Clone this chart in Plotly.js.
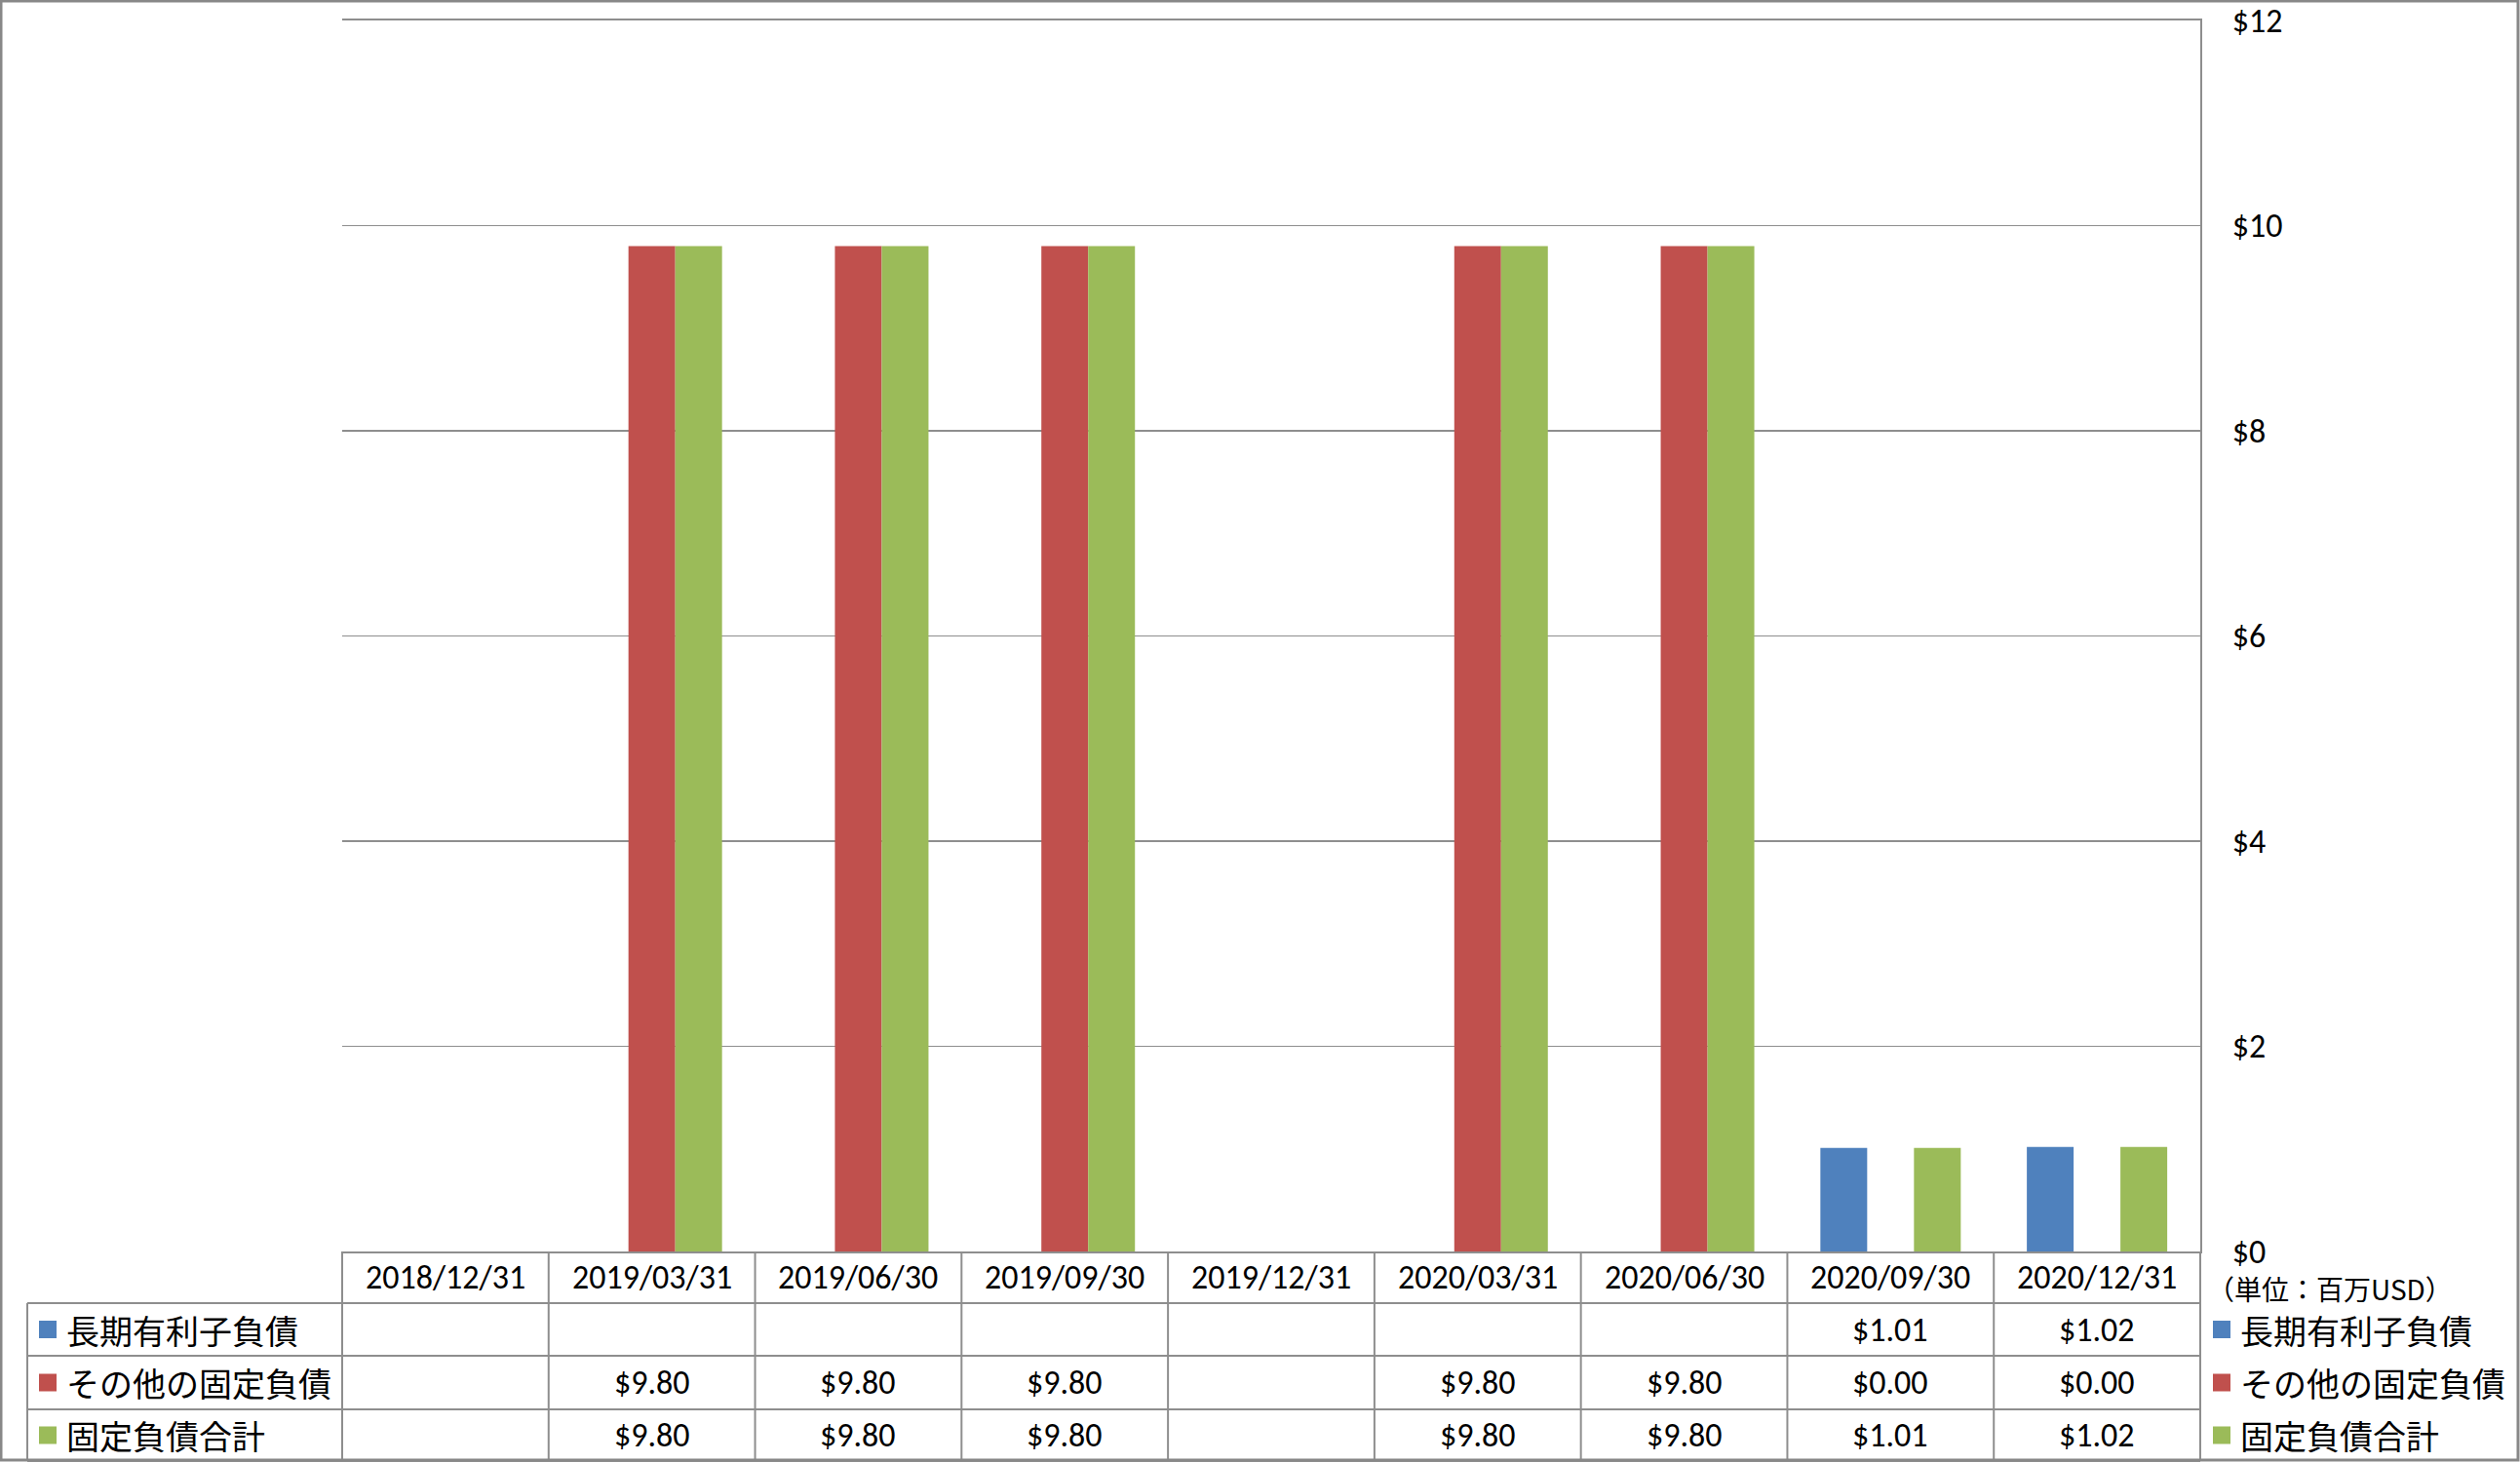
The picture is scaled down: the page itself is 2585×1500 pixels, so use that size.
<!DOCTYPE html>
<html>
<head>
<meta charset="utf-8">
<script src="https://cdn.plot.ly/plotly-3.0.1.min.js"></script>
<style>html,body{margin:0;padding:0;background:#fff;}#chart{width:2585px;height:1500px;}</style>
</head>
<body>
<div id="chart"></div>
<script>
const categories = ['2018/12/31','2019/03/31','2019/06/30','2019/09/30','2019/12/31','2020/03/31','2020/06/30','2020/09/30','2020/12/31'];
const longTermDebt = [null,null,null,null,null,null,null,1.01,1.02];
const otherFixedLiab = [null,9.80,9.80,9.80,null,9.80,9.80,0.00,0.00];
const totalFixedLiab = [null,9.80,9.80,9.80,null,9.80,9.80,1.01,1.02];
const seriesNames = ['長期有利子負債','その他の固定負債','固定負債合計'];
const seriesColors = ['#4F81BD','#C0504D','#9BBB59'];
const yTickVals = [0,2,4,6,8,10,12];
const yTickText = ['$0','$2','$4','$6','$8','$10','$12'];
const unitLabel = '（単位：百万USD）';

const W = 2585, H = 1500;
const L = 351, R = 2257, T = 21, B = 1284;
const FONT = 'Carlito, Lato, "Noto Sans CJK JP", sans-serif';
const JFONT = '"Noto Sans CJK JP", sans-serif';
const GRID = '#8E8E8E';
const px2x = p => (p - L) / (R - L);
const px2y = p => (B - p) / (B - T);
const rows = [1284, 1337, 1391, 1446, 1499];
const tableLeft = 28;

const seriesData = [longTermDebt, otherFixedLiab, totalFixedLiab];
const traces = seriesData.map((d, i) => ({
  type: 'bar', x: categories, y: d, name: seriesNames[i],
  marker: {color: seriesColors[i]}, hoverinfo: 'skip'
}));

const shapes = [];
const line = {color: GRID, width: 2};
function hline(ypx, x0px, x1px) {
  shapes.push({type:'line', xref:'paper', yref:'paper', x0:px2x(x0px), x1:px2x(x1px), y0:px2y(ypx), y1:px2y(ypx), line});
}
function vline(xp, y0px, y1px) {
  shapes.push({type:'line', xref:'paper', yref:'paper', x0:xp, x1:xp, y0:px2y(y0px), y1:px2y(y1px), line});
}
hline(rows[1], tableLeft, R);
hline(rows[2], tableLeft, R);
hline(rows[3], tableLeft, R);
hline(rows[4], tableLeft, R);
const n = categories.length;
for (let i = 0; i <= n; i++) vline(i / n, rows[0], rows[4]);
vline(px2x(tableLeft), rows[1], rows[4]);
shapes.push({type:'rect', xref:'paper', yref:'paper', x0:px2x(1), x1:px2x(W-2), y0:px2y(1), y1:px2y(H-2), line:{color:'#888888', width:3}});

const annotations = [];
const NUMSIZE = 34;
categories.forEach((c, i) => {
  annotations.push({xref:'x', yref:'paper', x:c, y:px2y((rows[0]+rows[1])/2), text:c, showarrow:false,
    xanchor:'center', yanchor:'middle', font:{family:FONT, size:NUMSIZE, color:'#000'}});
});
seriesData.forEach((d, s) => {
  const yc = px2y((rows[s+1]+rows[s+2])/2);
  d.forEach((v, i) => {
    if (v === null) return;
    annotations.push({xref:'x', yref:'paper', x:categories[i], y:yc, text:'$' + v.toFixed(2), showarrow:false,
      xanchor:'center', yanchor:'middle', font:{family:FONT, size:NUMSIZE, color:'#000'}});
  });
  const sq = 18;
  const ycp = (rows[s+1]+rows[s+2])/2;
  shapes.push({type:'rect', xref:'paper', yref:'paper', x0:px2x(40), x1:px2x(40+sq), y0:px2y(ycp-sq/2), y1:px2y(ycp+sq/2), fillcolor:seriesColors[s], line:{width:0}});
  annotations.push({xref:'paper', yref:'paper', x:px2x(66), y:yc, text:seriesNames[s], showarrow:false,
    xanchor:'left', yanchor:'middle', font:{family:JFONT, size:34, color:'#000'}});
  shapes.push({type:'rect', xref:'paper', yref:'paper', x0:px2x(2270), x1:px2x(2270+sq), y0:px2y(ycp-sq/2), y1:px2y(ycp+sq/2), fillcolor:seriesColors[s], line:{width:0}});
  annotations.push({xref:'paper', yref:'paper', x:px2x(2296), y:yc, text:seriesNames[s], showarrow:false,
    xanchor:'left', yanchor:'middle', font:{family:JFONT, size:34, color:'#000'}});
});
annotations.push({xref:'paper', yref:'paper', x:px2x(2262), y:px2y(1322), text:unitLabel, showarrow:false,
  xanchor:'left', yanchor:'middle', font:{family:JFONT, size:28, color:'#000'}});

const layout = {
  width: W, height: H,
  margin: {l: L, r: W - R, t: T, b: H - B, pad: 0},
  paper_bgcolor: '#fff', plot_bgcolor: '#fff',
  showlegend: false,
  barmode: 'group', bargap: 0.32, bargroupgap: 0,
  xaxis: {type:'category', range:[-0.5, n-0.5], showticklabels:false, ticks:'', showgrid:false,
    showline:true, mirror:true, linecolor:GRID, linewidth:2, zeroline:false, fixedrange:true},
  yaxis: {side:'right', range:[0,12], tickmode:'array', tickvals:yTickVals, ticktext:yTickText, ticks:'', ticklabelstandoff:24,
    showgrid:true, gridcolor:GRID, gridwidth:1.5, showline:true, linecolor:GRID, linewidth:2,
    zeroline:false, tickfont:{family:FONT, size:34, color:'#000'}, fixedrange:true},
  shapes, annotations,
  font: {family: FONT}
};
Plotly.newPlot('chart', traces, layout, {staticPlot:true, displayModeBar:false});
</script>
</body>
</html>
